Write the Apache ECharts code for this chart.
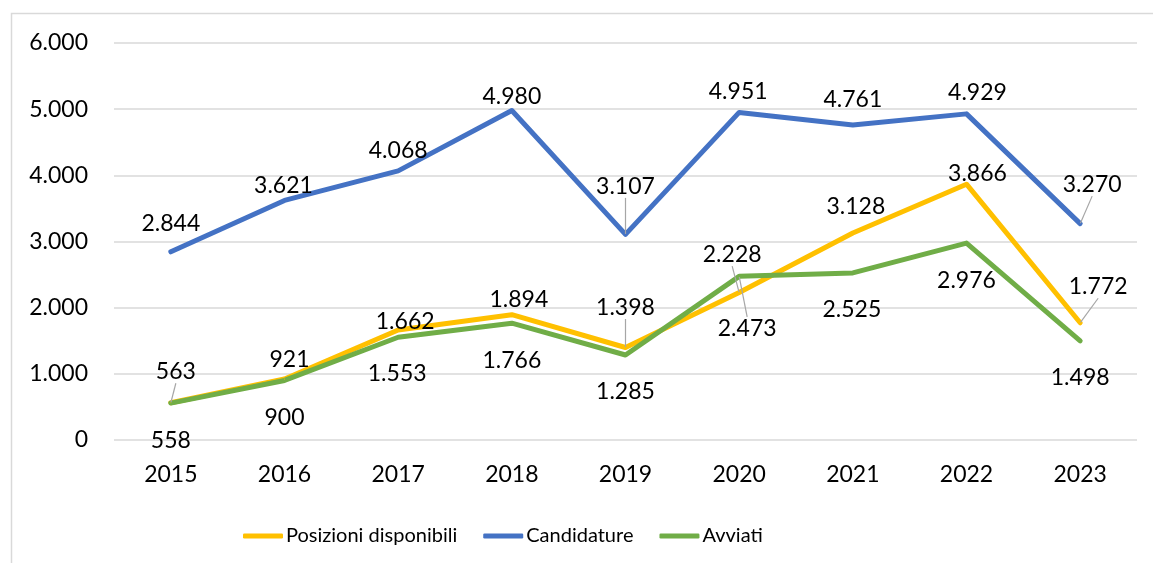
<!DOCTYPE html>
<html>
<head>
<meta charset="utf-8">
<script src="https://cdn.jsdelivr.net/npm/echarts@6/dist/echarts.min.js"></script>
<style>
  html, body { margin: 0; padding: 0; background: #fff; }
  #chart { width: 1153px; height: 563px; }
</style>
</head>
<body>
<div id="chart"></div>
<script>
// categories and values
var anni = ["2015", "2016", "2017", "2018", "2019", "2020", "2021", "2022", "2023"];
var posizioni = [563, 921, 1662, 1894, 1398, 2228, 3128, 3866, 1772];
var candidature = [2844, 3621, 4068, 4980, 3107, 4951, 4761, 4929, 3270];
var avviati = [558, 900, 1553, 1766, 1285, 2473, 2525, 2976, 1498];

// label placement (offset from point) and which labels have a leader line
var posOff = [[5, -31], [5, -19], [7, -8], [7, -15], [0, -40], [-7, -38], [3, -26], [11, -11], [18, -36]];
var posLead = [1, 0, 0, 0, 1, 1, 0, 0, 1];
var candOff = [[0, -28], [-1, -15], [0, -20], [0, -14], [0, -48], [-1, -21], [0, -25], [11, -21], [12, -39]];
var candLead = [0, 0, 0, 0, 1, 0, 0, 0, 1];
var avvOff = [[0, 37], [0, 37], [-1, 36], [0, 37], [0, 37], [8, 52], [-1, 37], [0, 37], [0, 37]];
var avvLead = [0, 0, 0, 0, 0, 1, 0, 0, 0];

var FONT = "Lato, 'Noto Sans', sans-serif";

function fmt(v) {
  return String(v).replace(/\B(?=(\d{3})+(?!\d))/g, ".");
}

function mkData(vals, lead) {
  return vals.map(function (v, i) {
    return { value: v, labelLine: { show: !!lead[i] } };
  });
}

function mkSeries(name, vals, color, offs, lead) {
  return {
    name: name,
    type: "line",
    data: mkData(vals, lead),
    symbol: "circle",
    symbolSize: 1,
    showSymbol: true,
    itemStyle: { color: color },
    lineStyle: { color: color, width: 5, cap: "round", join: "round" },
    label: {
      show: true,
      position: "inside",
      color: "#000",
      fontFamily: FONT,
      fontSize: 23,
      formatter: function (p) { return fmt(p.value); }
    },
    labelLine: {
      show: false,
      lineStyle: { color: "#a6a6a6", width: 1.2 }
    },
    labelLayout: function (p) {
      var o = offs[p.dataIndex];
      return { dx: o[0], dy: o[1] };
    },
    emphasis: { disabled: true }
  };
}

var myChart = echarts.init(document.getElementById("chart"));
myChart.setOption({
  animation: false,
  backgroundColor: "#fff",
  graphic: [{
    type: "rect",
    shape: { x: 11.5, y: 13.5, width: 1300, height: 700 },
    style: { fill: "none", stroke: "#d9d9d9", lineWidth: 1.5 },
    silent: true
  }],
  grid: { left: 114, right: 16, top: 43, bottom: 123 },
  legend: {
    left: 238,
    top: 520,
    itemWidth: 40,
    itemHeight: 5,
    itemGap: 26,
    icon: "roundRect",
    data: ["Posizioni disponibili", "Candidature", "Avviati"],
    textStyle: {
      color: "#000",
      fontFamily: FONT,
      fontSize: 20,
      lineHeight: 22,
      padding: [0, 0, 0, -2]
    }
  },
  xAxis: {
    type: "category",
    data: anni,
    boundaryGap: true,
    axisLine: { show: false },
    axisTick: { show: false },
    axisLabel: { color: "#000", fontFamily: FONT, fontSize: 23, margin: 23 }
  },
  yAxis: {
    type: "value",
    min: 0,
    max: 6000,
    interval: 1000,
    axisLine: { show: false },
    axisTick: { show: false },
    splitLine: { lineStyle: { color: "#d9d9d9", width: 1.5 } },
    axisLabel: {
      color: "#000",
      fontFamily: FONT,
      fontSize: 23,
      margin: 26,
      formatter: function (v) { return fmt(v); }
    }
  },
  series: [
    mkSeries("Posizioni disponibili", posizioni, "#FFC000", posOff, posLead),
    mkSeries("Candidature", candidature, "#4472C4", candOff, candLead),
    mkSeries("Avviati", avviati, "#70AD47", avvOff, avvLead)
  ]
});
</script>
</body>
</html>
